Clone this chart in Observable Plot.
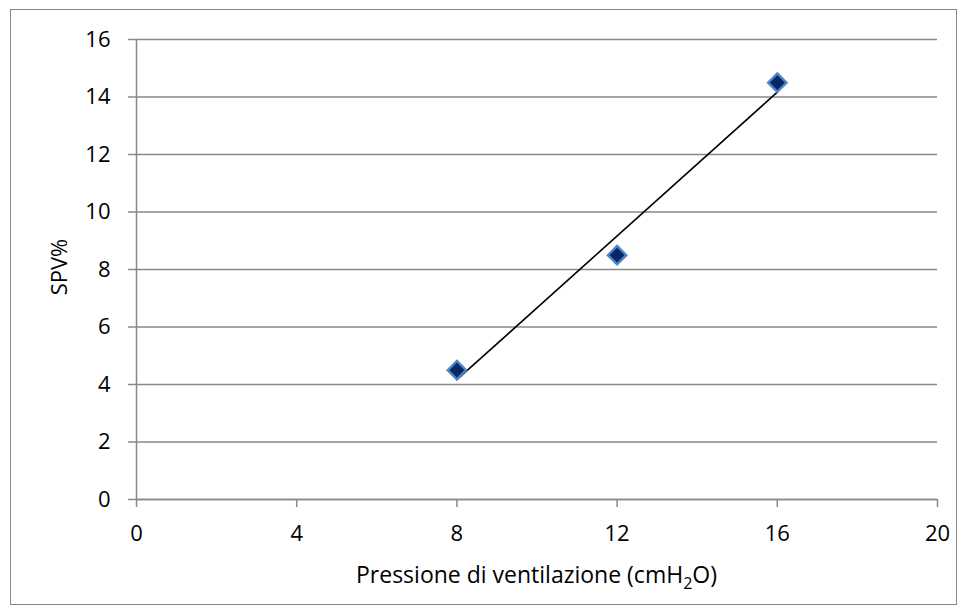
<!DOCTYPE html>
<html>
<head>
<meta charset="utf-8">
<script src="https://cdn.jsdelivr.net/npm/d3@7"></script>
<script src="https://cdn.jsdelivr.net/npm/@observablehq/plot@0.6"></script>
<style>
  html, body { margin: 0; padding: 0; background: #fff; }
  #chart { position: relative; width: 968px; height: 616px; }
  #frame { position: absolute; left: 10px; top: 9px; width: 945px; height: 594px; border: 1.5px solid #898989; box-sizing: content-box; pointer-events: none; }
  svg { display: block; }
</style>
</head>
<body>
<div id="chart"><div id="frame"></div></div>
<script>
// Ventilation pressure (cmH2O) vs systolic pressure variation (%)
const pressure = [8, 12, 16];
const spv = [4.5, 8.5, 14.5];
const xTicks = [0, 4, 8, 12, 16, 20];
const yTicks = [0, 2, 4, 6, 8, 10, 12, 14, 16];

const data = pressure.map((p, i) => ({pressure: p, spv: spv[i]}));

const font = "'Open Sans', sans-serif";
const gray = "#898989";

const plot = Plot.plot({
  width: 968,
  height: 616,
  marginLeft: 136,
  marginRight: 31,
  marginTop: 39,
  marginBottom: 117,
  style: {fontFamily: font, fontSize: "22px", color: "#000", background: "transparent"},
  x: {domain: [0, 20], ticks: xTicks, label: null},
  y: {domain: [0, 16], ticks: yTicks, label: null},
  marks: [
    Plot.gridY(yTicks, {stroke: gray, strokeOpacity: 1, strokeWidth: 1.5}),
    Plot.axisY({ticks: yTicks, tickSize: 8, tickPadding: 18, stroke: gray, strokeWidth: 1.5, label: null, fill: "#000", fontSize: 22}),
    Plot.axisX({ticks: xTicks, tickSize: 8, tickPadding: 18, stroke: gray, strokeWidth: 1.5, label: null, fill: "#000", fontSize: 22}),
    Plot.ruleX([0], {stroke: gray, strokeWidth: 1.5}),
    Plot.ruleY([0], {stroke: gray, strokeWidth: 1.5}),
    Plot.linearRegressionY(data, {x: "pressure", y: "spv", ci: 0, stroke: "#000", strokeWidth: 1.6}),
    Plot.dot(data, {x: "pressure", y: "spv", symbol: "diamond2", r: 8.3, fill: "#0a2664", stroke: "#4f86c6", strokeWidth: 2.4})
  ]
});

const svg = d3.select(plot);

// Axis titles
const xt = svg.append("text")
  .attr("x", (136 + 937) / 2)
  .attr("y", 583)
  .attr("text-anchor", "middle")
  .attr("font-family", font)
  .attr("font-size", 23)
  .attr("fill", "#000");
xt.append("tspan").text("Pressione di ventilazione (cmH");
xt.append("tspan").attr("font-size", 16).attr("dy", 6).text("2");
xt.append("tspan").attr("dy", -6).text("O)");

svg.append("text")
  .attr("transform", `translate(67, ${(39 + 499) / 2 - 2}) rotate(-90)`)
  .attr("text-anchor", "middle")
  .attr("font-family", font)
  .attr("font-size", 22)
  .attr("fill", "#000")
  .text("SPV%");

document.getElementById("chart").prepend(plot);
</script>
</body>
</html>
